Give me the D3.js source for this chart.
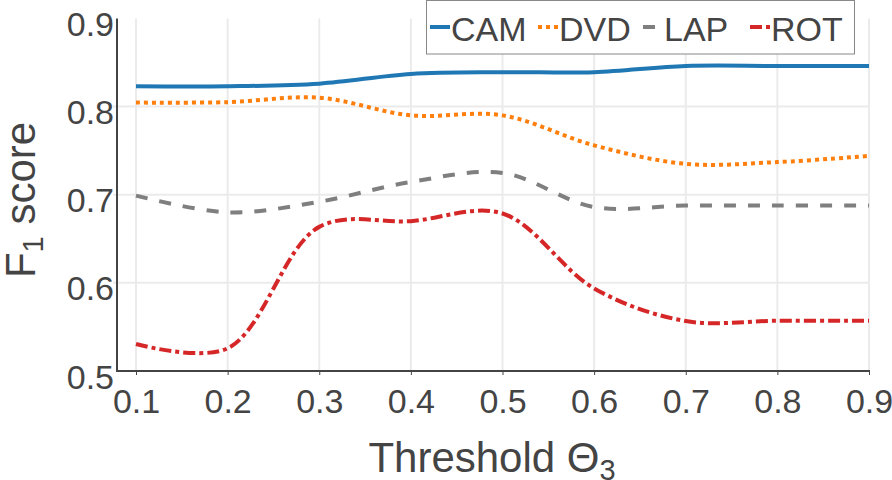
<!DOCTYPE html>
<html><head><meta charset="utf-8">
<script src="https://cdn.jsdelivr.net/npm/d3@7"></script>
<style>
body{margin:0;background:#fff}
svg{display:block}
text{font-family:"Liberation Sans",Arial,Helvetica,sans-serif;fill:#444}
</style>
</head><body>
<svg id="chart" width="892" height="480"></svg>
<script>
// ---- data ----
const thresholds = [0.1, 0.2, 0.3, 0.4, 0.5, 0.6, 0.7, 0.8, 0.9];
const seriesNames = ["CAM", "DVD", "LAP", "ROT"];
const camF1 = [0.823, 0.823, 0.826, 0.837, 0.839, 0.839, 0.846, 0.846, 0.846];
const dvdF1 = [0.8045, 0.805, 0.810, 0.790, 0.790, 0.756, 0.735, 0.737, 0.744];
const lapF1 = [0.699, 0.680, 0.692, 0.7145, 0.7247, 0.686, 0.6877, 0.6877, 0.6877];
const rotF1 = [0.5306, 0.5257, 0.6635, 0.670, 0.6787, 0.5937, 0.5567, 0.557, 0.557];
const xTickLabels = ["0.1", "0.2", "0.3", "0.4", "0.5", "0.6", "0.7", "0.8", "0.9"];
const yTickValues = [0.5, 0.6, 0.7, 0.8, 0.9];
const yTickLabels = ["0.5", "0.6", "0.7", "0.8", "0.9"];

// ---- styles ----
const colors = {CAM: "#1f77b4", DVD: "#ff7f0e", LAP: "#7f7f7f", ROT: "#d62728"};
const dashes = {CAM: null, DVD: "4,4", LAP: "12,12", ROT: "12,4,4,4"};
const legendX = {CAM: 430, DVD: 538, LAP: 643, ROT: 750};

const valuesByName = {CAM: camF1, DVD: dvdF1, LAP: lapF1, ROT: rotF1};

const svg = d3.select("#chart");
const x = d3.scaleLinear().domain([0.1, 0.9]).range([136, 869]);
const y = d3.scaleLinear().domain([0.5, 0.9]).range([371, 18.4]);
const axisLeftX = 117;

// grid
const grid = svg.append("g");
grid.selectAll("line.v").data(thresholds).join("line")
  .attr("x1", d => x(d)).attr("x2", d => x(d))
  .attr("y1", y(0.9)).attr("y2", y(0.5))
  .attr("stroke", "#ebebeb").attr("stroke-width", 2);
grid.selectAll("line.h").data(yTickValues.filter(v => v > 0.5 && v < 0.9)).join("line")
  .attr("x1", axisLeftX - 4).attr("x2", x(0.9))
  .attr("y1", d => y(d)).attr("y2", d => y(d))
  .attr("stroke", "#ebebeb").attr("stroke-width", 2);

// x ticks
const xAxis = d3.axisBottom(x).tickValues(thresholds).tickSize(4)
  .tickFormat((d, i) => xTickLabels[i]);
const gx = svg.append("g").attr("transform", `translate(0,${y(0.5)})`).call(xAxis);
gx.select(".domain").remove();
gx.selectAll(".tick line").attr("stroke", "#444").attr("stroke-width", 1);
gx.selectAll(".tick text").attr("font-size", 34).attr("fill", "#444")
  .attr("y", 42).attr("dy", 0);

// y ticks
const yAxis = d3.axisLeft(y).tickValues(yTickValues).tickSize(0)
  .tickFormat((d, i) => yTickLabels[i]);
const gy = svg.append("g").attr("transform", `translate(${axisLeftX},0)`).call(yAxis);
gy.select(".domain").remove();
gy.selectAll(".tick text").attr("font-size", 34).attr("fill", "#444")
  .attr("x", -3).attr("dy", 0).attr("y", 17).attr("text-anchor", "end");

// axis lines
svg.append("line").attr("x1", axisLeftX).attr("x2", axisLeftX)
  .attr("y1", y(0.9)).attr("y2", y(0.5) + 1)
  .attr("stroke", "#444").attr("stroke-width", 2);
svg.append("line").attr("x1", axisLeftX - 1).attr("x2", x(0.9) + 1)
  .attr("y1", y(0.5)).attr("y2", y(0.5))
  .attr("stroke", "#444").attr("stroke-width", 2);

// lines
const line = d3.line()
  .x((d, i) => x(thresholds[i]))
  .y(d => y(d))
  .curve(d3.curveCatmullRom.alpha(0.5));

svg.append("g").selectAll("path").data(seriesNames).join("path")
  .attr("d", n => line(valuesByName[n]))
  .attr("fill", "none")
  .attr("stroke", n => colors[n])
  .attr("stroke-width", 4)
  .attr("stroke-dasharray", n => dashes[n]);

// axis titles
const xt = svg.append("text").attr("x", 492).attr("y", 472)
  .attr("text-anchor", "middle").attr("font-size", 42);
xt.append("tspan").text("Threshold Θ");
xt.append("tspan").attr("font-size", 29).attr("dy", 8).text("3");

const yt = svg.append("text")
  .attr("transform", "translate(35,200) rotate(-90)")
  .attr("text-anchor", "middle").attr("font-size", 42);
yt.append("tspan").text("F");
yt.append("tspan").attr("font-size", 29).attr("dy", 8).text("1");
yt.append("tspan").attr("dy", -8).text(" score");

// legend
const lg = svg.append("g");
lg.append("rect").attr("x", 426.5).attr("y", 0.5).attr("width", 428).attr("height", 53.5)
  .attr("fill", "#fff").attr("stroke", "#888").attr("stroke-width", 1);
const items = lg.selectAll("g.item").data(seriesNames).join("g")
  .attr("transform", n => `translate(${legendX[n]},0)`);
items.append("line").attr("x1", 0).attr("x2", 20).attr("y1", 27).attr("y2", 27)
  .attr("stroke", n => colors[n]).attr("stroke-width", 4)
  .attr("stroke-dasharray", n => dashes[n]);
items.append("text").attr("x", 21).attr("y", 40.7).attr("font-size", 34)
  .text(n => n);
</script>
</body></html>
